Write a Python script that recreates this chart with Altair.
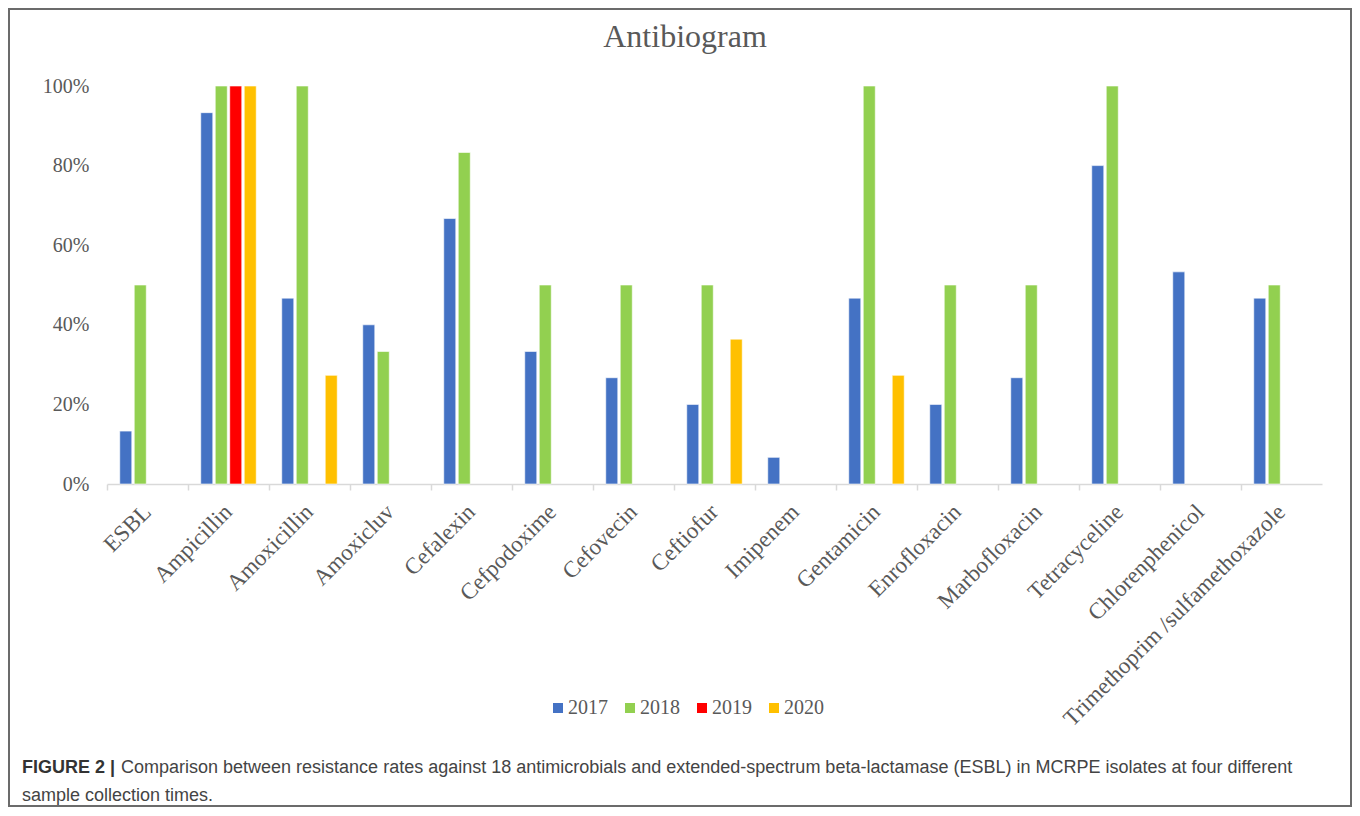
import altair as alt
import pandas as pd

categories = ["ESBL", "Ampicillin", "Amoxicillin", "Amoxicluv", "Cefalexin", "Cefpodoxime",
              "Cefovecin", "Ceftiofur", "Imipenem", "Gentamicin", "Enrofloxacin",
              "Marbofloxacin", "Tetracyceline", "Chlorenphenicol",
              "Trimethoprim /sulfamethoxazole"]
years = ["2017", "2018", "2019", "2020"]
v2017 = [13.3, 93.3, 46.7, 40.0, 66.7, 33.3, 26.7, 20.0, 6.7, 46.7, 20.0, 26.7, 80.0, 53.3, 46.7]
v2018 = [50.0, 100.0, 100.0, 33.3, 83.3, 50.0, 50.0, 50.0, 0.0, 100.0, 50.0, 50.0, 100.0, 0.0, 50.0]
v2019 = [0.0, 100.0, 0.0, 0.0, 0.0, 0.0, 0.0, 0.0, 0.0, 0.0, 0.0, 0.0, 0.0, 0.0, 0.0]
v2020 = [0.0, 100.0, 27.3, 0.0, 0.0, 0.0, 0.0, 36.4, 0.0, 27.3, 0.0, 0.0, 0.0, 0.0, 0.0]
colors = ["#4472C4", "#92D050", "#FF0000", "#FFC000"]

title_text = "Antibiogram"
caption_bold = "FIGURE 2 |"
caption_line1 = ("Comparison between resistance rates against 18 antimicrobials and extended-spectrum "
                 "beta-lactamase (ESBL) in MCRPE isolates at four different")
caption_line2 = "sample collection times."

rows = []
for yr, vals in zip(years, [v2017, v2018, v2019, v2020]):
    for c, v in zip(categories, vals):
        if v > 0:
            rows.append({"drug": c, "year": yr, "value": v})
df = pd.DataFrame(rows)

serif = "Liberation Serif"
sans = "Liberation Sans"
gray = "#595959"

bars = alt.Chart(df).mark_bar(stroke="#ffffff", strokeWidth=0.6).encode(
    x=alt.X("drug:N", sort=categories, title=None,
            scale=alt.Scale(paddingInner=0, paddingOuter=0),
            axis=alt.Axis(labelAngle=315, labelAlign="right", labelBaseline="middle",
                          labelFont=serif, labelFontSize=23, labelColor=gray,
                          labelPadding=18, labelLimit=1000, domainColor="#d9d9d9",
                          domainWidth=1.5, tickColor="#d9d9d9", tickSize=6, tickWidth=1.5,
                          bandPosition=0, labelBound=False, labelOverlap=False)),
    xOffset=alt.XOffset("year:N", sort=years,
                        scale=alt.Scale(domain=years, paddingInner=0.17, paddingOuter=0.88)),
    y=alt.Y("value:Q", title=None,
            scale=alt.Scale(domain=[0, 100], nice=False),
            axis=alt.Axis(values=[0, 20, 40, 60, 80, 100], labelExpr="datum.value + '%'",
                          grid=False, domain=False, ticks=False, labelFont=serif,
                          labelFontSize=20, labelColor=gray, labelPadding=18)),
    color=alt.Color("year:N", sort=years,
                    scale=alt.Scale(domain=years, range=colors),
                    legend=alt.Legend(title=None, orient="none", legendX=441, legendY=612,
                                      direction="horizontal", symbolType="square",
                                      symbolSize=100, symbolStrokeWidth=0,
                                      labelFont=serif, labelFontSize=20, labelColor=gray,
                                      labelOffset=0, columnPadding=12, padding=0)),
)

one = pd.DataFrame({"t": [title_text]})
title = alt.Chart(one).mark_text(font=serif, fontSize=32, color=gray, align="center",
                                 baseline="alphabetic").encode(
    text="t:N", x=alt.value(578), y=alt.value(-39))

cap1b = alt.Chart(pd.DataFrame({"t": [caption_bold]})).mark_text(
    font=sans, fontSize=18, fontWeight="bold", color="#333333", align="left",
    baseline="middle").encode(text="t:N", x=alt.value(-85), y=alt.value(682))
cap1 = alt.Chart(pd.DataFrame({"t": [caption_line1]})).mark_text(
    font=sans, fontSize=18, color="#444444", align="left",
    baseline="middle").encode(text="t:N", x=alt.value(14), y=alt.value(682))
cap2 = alt.Chart(pd.DataFrame({"t": [caption_line2]})).mark_text(
    font=sans, fontSize=18, color="#444444", align="left",
    baseline="middle").encode(text="t:N", x=alt.value(-85), y=alt.value(710))

frame = alt.Chart(pd.DataFrame({"t": [1]})).mark_rect(
    filled=False, stroke="#6b6b6b", strokeWidth=2).encode(
    x=alt.value(-98), x2=alt.value(1244), y=alt.value(-77), y2=alt.value(720))

chart = alt.layer(frame, bars, title, cap1b, cap1, cap2).properties(
    width=1215, height=398,
    background="white",
    autosize=alt.AutoSizeParams(type="none"),
    padding={"left": 99, "top": 78, "right": 30, "bottom": 324},
).configure_view(strokeWidth=0, stroke="transparent")

chart.save("out.html", embed_options={"renderer": "svg", "actions": False})
